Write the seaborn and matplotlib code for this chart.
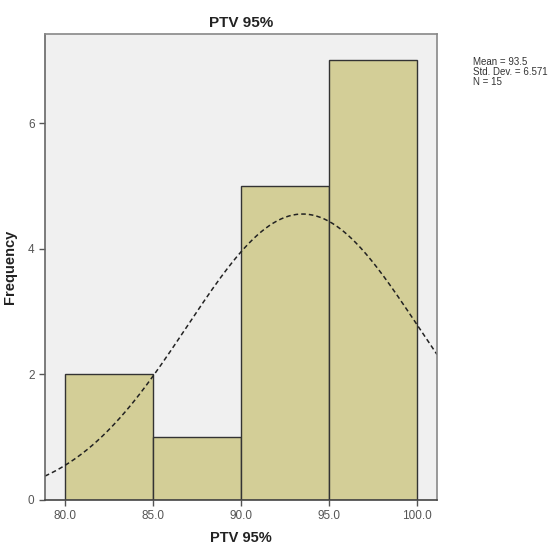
import numpy as np
import pandas as pd
import matplotlib
matplotlib.use("Agg")
import matplotlib.pyplot as plt
import seaborn as sns

bin_edges = [80.0, 85.0, 90.0, 95.0, 100.0]
bin_centers = [82.5, 87.5, 92.5, 97.5]
counts = [2, 1, 5, 7]
mean_val = 93.5
sd_val = 6.571
n_val = 15
x_ticks = [80.0, 85.0, 90.0, 95.0, 100.0]
y_ticks = [0, 2, 4, 6]

sns.set_style("white")
plt.rcParams['font.family'] = ['Liberation Sans', 'DejaVu Sans']

fig = plt.figure(figsize=(5.59, 5.51), dpi=100)
ax = fig.add_axes([0.0805, 0.0926, 0.7013, 0.8457])
ax.set_facecolor('#F0F0F0')

df = pd.DataFrame({"x": bin_centers, "w": counts})
sns.histplot(data=df, x="x", weights="w", bins=bin_edges, ax=ax,
             color='#D3CE97', edgecolor='#333333', linewidth=1.0, alpha=1)

xs = np.linspace(78.86, 101.14, 300)
ys = n_val * 5.0 / (sd_val * np.sqrt(2 * np.pi)) * np.exp(-0.5 * ((xs - mean_val) / sd_val) ** 2)
ax.plot(xs, ys, linestyle=(0, (3, 2)), color='#222222', linewidth=1.1)

ax.set_xlim(78.86, 101.14)
ax.set_ylim(0, 7.42)
ax.set_xticks(x_ticks)
ax.set_xticklabels([f"{v:.1f}" for v in x_ticks], color='#555555', fontsize=8.5)
ax.set_yticks(y_ticks)
ax.set_yticklabels([str(v) for v in y_ticks], color='#555555', fontsize=8.5)
ax.tick_params(axis='both', length=4, width=1, color='#555555', direction='out', bottom=True, left=True)

for s in ax.spines.values():
    s.set_color('#888888')
    s.set_linewidth(1.2)
ax.spines['left'].set_color('#666666')
ax.spines['bottom'].set_color('#444444')

ax.set_xlabel("PTV 95%", fontsize=10.5, fontweight='bold', color='#222222', labelpad=6)
ax.set_ylabel("Frequency", fontsize=10.5, fontweight='bold', color='#222222')
ax.yaxis.set_label_coords(-0.072, 0.5)
ax.set_title("PTV 95%", fontsize=11, fontweight='bold', color='#222222', pad=5)

fig.text(473/559, 1 - 57/551, f"Mean = {mean_val}\nStd. Dev. = {sd_val}\nN = {n_val}",
         fontsize=7, color='#333333', va='top', ha='left', linespacing=1.0)

fig.savefig("out.png", dpi=100)
